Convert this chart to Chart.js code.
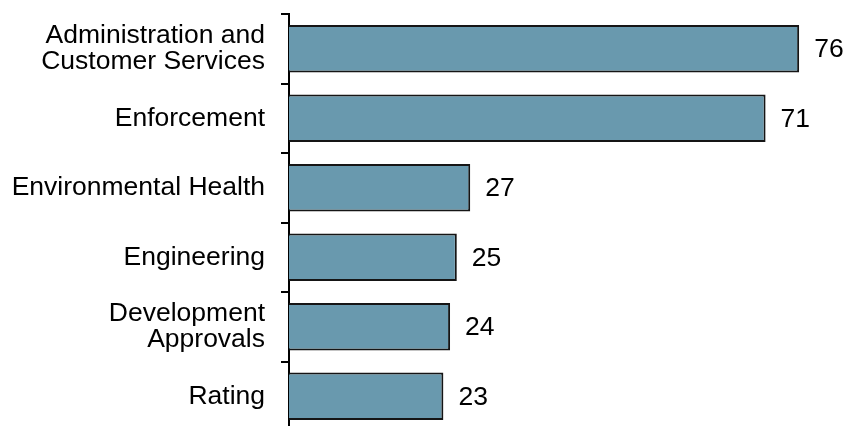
<!DOCTYPE html>
<html>
<head>
<meta charset="utf-8">
<script src="https://cdn.jsdelivr.net/npm/chart.js@4"></script>
<style>
  html, body { margin: 0; padding: 0; background: #fff; overflow: hidden; }
  #wrap { width: 846px; height: 431px; }
</style>
</head>
<body>
<div id="wrap"><canvas id="barChart" width="846" height="431"></canvas></div>
<script>
const categories = [
  ["Administration and", "Customer Services"],
  "Enforcement",
  "Environmental Health",
  "Engineering",
  ["Development", "Approvals"],
  "Rating",
];
const counts = [76, 71, 27, 25, 24, 23];

const font = { family: "'Liberation Sans', Arial, sans-serif", size: 26.5, lineHeight: 1.0 };

// write each value just past the end of its bar
const valueLabels = {
  id: "valueLabels",
  afterDatasetsDraw(chart) {
    const ctx = chart.ctx;
    const meta = chart.getDatasetMeta(0);
    ctx.save();
    ctx.font = font.size + "px " + font.family;
    ctx.fillStyle = "#000";
    ctx.textAlign = "left";
    ctx.textBaseline = "middle";
    meta.data.forEach((bar, i) => {
      ctx.fillText(String(counts[i]), bar.x + 15, bar.y + 1);
    });
    ctx.restore();
  },
};

new Chart(document.getElementById("barChart"), {
  type: "bar",
  data: {
    labels: categories,
    datasets: [
      {
        data: counts,
        backgroundColor: "#6999ae",
        borderColor: "#151515",
        borderWidth: 2,
        categoryPercentage: 1.0,
        barPercentage: 0.68,
      },
    ],
  },
  options: {
    indexAxis: "y",
    responsive: false,
    animation: false,
    layout: { padding: { top: 14, right: 20, bottom: 0, left: 0 } },
    plugins: {
      legend: { display: false },
      tooltip: { enabled: false },
    },
    scales: {
      x: { display: false, min: 0, max: 80 },
      y: {
        offset: true,
        afterFit(scale) {
          // fixed axis width, and no extra room for the end labels
          scale.width = 289;
          scale.paddingTop = 0;
          scale.paddingBottom = 0;
        },
        border: { display: true, color: "#000", width: 2 },
        grid: {
          drawOnChartArea: false,
          drawTicks: true,
          tickLength: 8,
          color: "#000",
          lineWidth: 2,
        },
        ticks: { color: "#000", font: font, padding: 16 },
      },
    },
  },
  plugins: [valueLabels],
});
</script>
</body>
</html>
